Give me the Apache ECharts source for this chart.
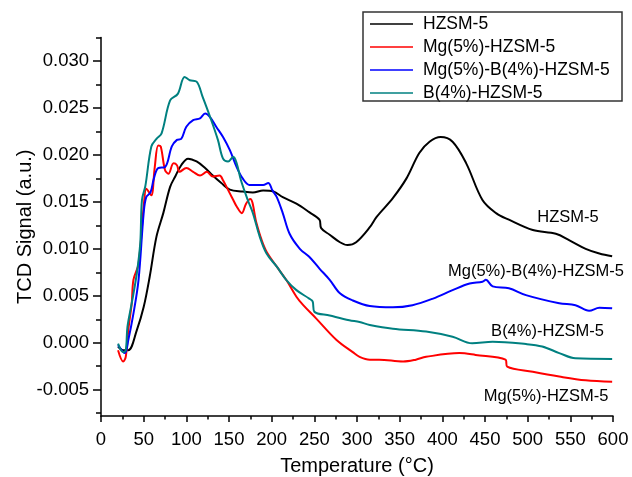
<!DOCTYPE html>
<html>
<head>
<meta charset="utf-8">
<script src="https://cdn.jsdelivr.net/npm/echarts@6/dist/echarts.min.js"></script>
<style>
  html, body { margin: 0; padding: 0; background: #fff; }
  #container { width: 632px; height: 477px; }
</style>
</head>
<body>
<div id="container"></div>
<script>
// TPD curves, temperature in °C, signal in a.u.
var hzsmT = [20, 26, 32, 42, 50, 57, 65, 73, 81, 87, 94, 102, 112, 122, 131, 141, 151, 166, 178, 190, 202, 213, 229, 244, 256, 258, 268, 280, 289, 299, 315, 323, 342, 358, 373, 385, 398, 412, 428, 447, 463, 478, 506, 533, 549, 568, 584, 599];
var hzsmV = [-0.0004, -0.0008, -0.0008, 0.00135, 0.0038, 0.0070, 0.0113, 0.0138, 0.0166, 0.0177, 0.0189, 0.0196, 0.0193, 0.0186, 0.0178, 0.0170, 0.0163, 0.0161, 0.0160, 0.0162, 0.0161, 0.0155, 0.0148, 0.0139, 0.0131, 0.0122, 0.0115, 0.0107, 0.0104, 0.0107, 0.0123, 0.0134, 0.0154, 0.0175, 0.0202, 0.0214, 0.0219, 0.0214, 0.0191, 0.0152, 0.0138, 0.0131, 0.0120, 0.0116, 0.0109, 0.0100, 0.0095, 0.0092];

var mgT = [20, 26, 29, 32, 36, 38, 44, 50, 53, 55, 59, 63, 67, 70, 75, 79, 85, 89, 92, 100, 108, 116, 124, 131, 139, 143, 151, 155, 159, 165, 170, 175, 182, 188, 194, 206, 217, 229, 237, 252, 276, 295, 303, 315, 326, 354, 369, 381, 420, 439, 474, 476, 506, 537, 568, 599];
var mgV = [-0.0008, -0.0020, -0.0015, 0.00135, 0.0042, 0.0067, 0.0084, 0.0145, 0.0164, 0.0162, 0.0157, 0.0187, 0.0210, 0.0209, 0.0184, 0.0180, 0.0191, 0.0189, 0.0182, 0.0186, 0.0182, 0.0178, 0.0182, 0.0177, 0.0178, 0.0173, 0.0159, 0.0152, 0.0145, 0.0138, 0.0148, 0.0153, 0.0128, 0.0110, 0.0097, 0.0081, 0.0067, 0.0049, 0.0040, 0.0026, 0.0003, -0.0010, -0.0015, -0.0018, -0.0018, -0.0020, -0.0018, -0.0015, -0.0011, -0.0013, -0.0018, -0.00255, -0.0031, -0.0036, -0.0040, -0.00415];

var mgbT = [20, 28, 32, 38, 44, 50, 53, 58, 62, 67, 75, 83, 89, 94, 100, 108, 116, 122, 128, 135, 143, 151, 159, 166, 174, 182, 190, 196, 201, 206, 213, 221, 233, 244, 256, 268, 280, 295, 315, 342, 365, 389, 412, 432, 447, 451, 459, 478, 498, 537, 556, 572, 584, 599];
var mgbV = [-0.00025, -0.0011, 0.0003, 0.0031, 0.0067, 0.0138, 0.0155, 0.0160, 0.0175, 0.0186, 0.0187, 0.0209, 0.0216, 0.0217, 0.0230, 0.0237, 0.0239, 0.0244, 0.0240, 0.0230, 0.0219, 0.0205, 0.0187, 0.0175, 0.0168, 0.0168, 0.0168, 0.0170, 0.0162, 0.0155, 0.0138, 0.0116, 0.0100, 0.00915, 0.0079, 0.0067, 0.00526, 0.0045, 0.0039, 0.00377, 0.0040, 0.0047, 0.0056, 0.0063, 0.0065, 0.0067, 0.0060, 0.0058, 0.00507, 0.0042, 0.0040, 0.0034, 0.00372, 0.00366];

var bT = [20, 26, 29, 31, 36, 42, 46, 48, 52, 59, 65, 71, 81, 90, 98, 104, 112, 119, 128, 137, 143, 149, 155, 159, 164, 172, 178, 186, 194, 206, 217, 229, 244, 248, 250, 268, 291, 303, 315, 342, 381, 412, 435, 459, 498, 517, 537, 556, 599];
var bV = [-0.0001, -0.0010, -0.0008, 0.0017, 0.0042, 0.0074, 0.0106, 0.0152, 0.0167, 0.0209, 0.0217, 0.0223, 0.0258, 0.0265, 0.0283, 0.02795, 0.0278, 0.0262, 0.0240, 0.0216, 0.0196, 0.0193, 0.0198, 0.0191, 0.0173, 0.0152, 0.0138, 0.0113, 0.0095, 0.0081, 0.0067, 0.0056, 0.0047, 0.0044, 0.0033, 0.0029, 0.0024, 0.0022, 0.0019, 0.0015, 0.0012, 0.00064, -0.00006, 0.0001, -0.00014, -0.0004, -0.0011, -0.00166, -0.00173];

var names = ['HZSM-5', 'Mg(5%)-HZSM-5', 'Mg(5%)-B(4%)-HZSM-5', 'B(4%)-HZSM-5'];
var colors = ['#000000', '#ff0000', '#0000ff', '#008080'];

var xTicks = [0, 50, 100, 150, 200, 250, 300, 350, 400, 450, 500, 550, 600];
var yTicks = [-0.005, 0, 0.005, 0.01, 0.015, 0.02, 0.025, 0.03];
var yMinorTicks = [-0.0075, -0.0025, 0.0025, 0.0075, 0.0125, 0.0175, 0.0225, 0.0275, 0.0325];

function pairs(t, v) {
    var out = [];
    for (var i = 0; i < t.length; i++) {
        out.push([t[i], v[i]]);
    }
    return out;
}

var font = 'Liberation Sans, Arial, sans-serif';
var allT = [hzsmT, mgT, mgbT, bT];
var allV = [hzsmV, mgV, mgbV, bV];

var series = [];
for (var k = 0; k < names.length; k++) {
    series.push({
        name: names[k],
        type: 'line',
        data: pairs(allT[k], allV[k]),
        symbol: 'none',
        smooth: 0.35,
        yAxisIndex: 0,
        lineStyle: { color: colors[k], width: 2 },
        itemStyle: { color: colors[k] }
    });
}

var chart = echarts.init(document.getElementById('container'), null, { renderer: 'canvas' });

var option = {
    animation: false,
    backgroundColor: '#ffffff',
    textStyle: { fontFamily: font },
    grid: { left: 101, right: 19, top: 37.5, bottom: 61, outerBoundsMode: 'none' },
    legend: {
        data: names,
        orient: 'vertical',
        left: 363,
        top: 12,
        padding: [3, 10, 2, 7],
        itemGap: 5,
        itemWidth: 43,
        itemHeight: 1.5,
        icon: 'rect',
        borderWidth: 0,
        textStyle: { fontSize: 17.5, color: '#000', fontFamily: font, padding: [0, 0, 0, 5] }
    },
    xAxis: {
        type: 'value',
        min: 0,
        max: 600,
        interval: 50,
        name: 'Temperature (°C)',
        nameLocation: 'middle',
        nameGap: 40,
        nameTextStyle: { fontSize: 20, color: '#000', fontFamily: font },
        axisLine: { show: true, onZero: false, lineStyle: { color: '#000', width: 1.5 } },
        axisTick: { show: true, length: 6, lineStyle: { color: '#000', width: 1.5 } },
        minorTick: { show: true, splitNumber: 2, length: 3.5, lineStyle: { color: '#000', width: 1.5 } },
        splitLine: { show: false },
        axisLabel: {
            fontSize: 18.5, color: '#000', margin: 14, fontFamily: font,
            customValues: xTicks
        }
    },
    yAxis: [
        {
            type: 'value',
            min: -0.0078,
            max: 0.0325,
            name: 'TCD Signal (a.u.)',
            nameLocation: 'middle',
            nameGap: 66,
            nameMoveOverlap: false,
            nameTextStyle: { fontSize: 20, color: '#000', fontFamily: font },
            axisLine: { show: true, onZero: false, lineStyle: { color: '#000', width: 1.5 } },
            axisTick: { show: true, length: 8, customValues: yTicks, lineStyle: { color: '#000', width: 1.5 } },
            splitLine: { show: false },
            axisLabel: {
                fontSize: 18.5, color: '#000', margin: 12, fontFamily: font,
                customValues: yTicks,
                formatter: function (v) { return v.toFixed(3); }
            }
        },
        {
            type: 'value',
            position: 'left',
            min: -0.0078,
            max: 0.0325,
            axisLine: { show: false },
            axisTick: { show: true, length: 5, customValues: yMinorTicks, lineStyle: { color: '#000', width: 1.5 } },
            axisLabel: { show: false },
            splitLine: { show: false }
        }
    ],
    graphic: [
        { type: 'rect', shape: { x: 363, y: 12, width: 259, height: 89 }, style: { fill: 'none', stroke: '#333', lineWidth: 1.5 }, z: 10 },
        { type: 'text', x: 568, y: 217.5, style: { text: 'HZSM-5', font: '16.5px ' + font, fill: '#000', align: 'center', verticalAlign: 'middle' } },
        { type: 'text', x: 536, y: 271, style: { text: 'Mg(5%)-B(4%)-HZSM-5', font: '16.5px ' + font, fill: '#000', align: 'center', verticalAlign: 'middle' } },
        { type: 'text', x: 547.5, y: 331, style: { text: 'B(4%)-HZSM-5', font: '16.5px ' + font, fill: '#000', align: 'center', verticalAlign: 'middle' } },
        { type: 'text', x: 546, y: 396.3, style: { text: 'Mg(5%)-HZSM-5', font: '16.5px ' + font, fill: '#000', align: 'center', verticalAlign: 'middle' } }
    ],
    series: series
};

chart.setOption(option);
</script>
</body>
</html>
